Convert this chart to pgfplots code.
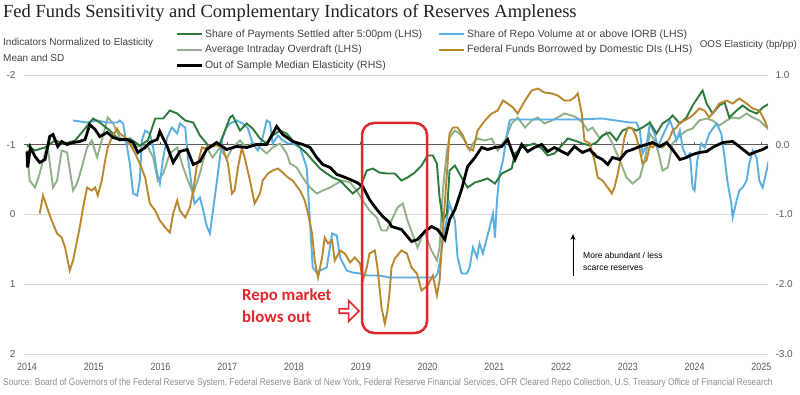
\documentclass[border=0pt]{standalone}
\usepackage{fontspec}
\setmainfont{Liberation Sans}
\newfontfamily\titlefont{Liberation Serif}
\newfontfamily\narrowfont[FakeStretch=0.85]{Liberation Sans}
\newfontfamily\calib{Carlito}
\usepackage{pgfplots}
\pgfplotsset{compat=1.18}
\usetikzlibrary{shapes.arrows,arrows.meta}
\definecolor{dgreen}{HTML}{2E7A3C}
\definecolor{lgreen}{HTML}{90B08A}
\definecolor{lblue}{HTML}{5BAEE2}
\definecolor{fbrown}{HTML}{B8872E}
\definecolor{txtgray}{HTML}{404040}
\definecolor{tickgray}{HTML}{595959}
\definecolor{gridgray}{HTML}{D9D9D9}
\definecolor{srcgray}{HTML}{8C8C8C}
\definecolor{annred}{HTML}{E3262B}
\begin{document}
\begin{tikzpicture}[x=1pt,y=1pt]
\path (0,0) rectangle (800,394);
\begin{axis}[
  at={(24pt,40pt)}, anchor=south west,
  width=744pt, height=279pt, scale only axis,
  xmin=2013.955, xmax=2025.1, ymin=-2, ymax=2, y dir=reverse,
  axis line style={draw=none}, major tick length=0pt,
  xtick={2014,2015,...,2025}, ytick={-2,-1,0,1,2},
  ymajorgrids, major grid style={gridgray, line width=0.8pt},
  /pgf/number format/assume math mode=true,
  /pgf/number format/1000 sep={},
  xticklabel style={font=\narrowfont\fontsize{10.5}{12}\selectfont, text=tickgray, yshift=-6pt},
  yticklabel style={font=\fontsize{10}{12}\selectfont, text=tickgray, xshift=-5pt},
]
\draw[tickgray, line width=0.9pt] (axis cs:2013.955,-1) -- (axis cs:2025.1,-1);
\pgfplotsinvokeforeach{2015,2016,...,2025}{\draw[tickgray, line width=0.8pt] (axis cs:#1,-1) -- ++(0pt,2.5pt);}
% Average Intraday Overdraft
\addplot[lgreen, line width=1.9pt] table {
2014.00 -0.918
2014.04 -0.487
2014.12 -0.387
2014.19 -0.588
2014.27 -0.889
2014.31 -0.961
2014.39 -0.387
2014.45 -0.487
2014.52 -0.918
2014.60 -0.889
2014.69 -0.344
2014.75 -0.444
2014.82 -0.674
2014.90 -0.961
2014.97 -1.061
2015.05 -0.817
2015.12 -1.061
2015.21 -1.391
2015.29 -1.305
2015.39 -1.104
2015.50 -1.032
2015.59 -0.961
2015.69 -0.989
2015.80 -0.989
2015.89 -0.817
2015.96 -0.487
2016.04 -0.588
2016.14 -0.875
2016.25 -0.961
2016.34 -0.674
2016.41 -0.487
2016.49 -0.301
2016.59 -0.588
2016.69 -0.961
2016.78 -0.817
2016.89 -0.961
2016.99 -0.803
2017.08 -0.961
2017.19 -1.061
2017.29 -0.961
2017.38 -1.032
2017.49 -0.961
2017.59 -0.875
2017.68 -0.961
2017.79 -1.018
2017.89 -0.875
2017.94 -0.731
2018.04 -0.674
2018.13 -0.530
2018.24 -0.387
2018.34 -0.301
2018.43 -0.344
2018.54 -0.387
2018.64 -0.444
2018.73 -0.487
2018.84 -0.459
2018.94 -0.344
2019.03 -0.201
2019.13 -0.057
2019.24 0.043
2019.31 0.229
2019.39 0.229
2019.46 0.086
2019.55 -0.100
2019.63 -0.158
2019.70 0.086
2019.81 0.373
2019.85 0.473
2019.91 0.330
2019.96 0.229
2020.00 0.373
2020.06 0.516
2020.14 0.659
2020.18 0.473
2020.23 -0.344
2020.29 -0.918
2020.33 -1.104
2020.41 -1.204
2020.48 -1.161
2020.56 -1.061
2020.63 -0.918
2020.68 -1.018
2020.75 -1.090
2020.86 -1.061
2020.96 -1.090
2021.05 -0.918
2021.16 -1.061
2021.26 -1.305
2021.35 -1.391
2021.46 -1.247
2021.56 -1.348
2021.65 -1.391
2021.75 -1.305
2021.86 -1.348
2021.95 -1.391
2022.05 -1.448
2022.16 -1.419
2022.23 -1.391
2022.32 -1.319
2022.40 -1.204
2022.47 -1.247
2022.58 -1.090
2022.68 -1.176
2022.77 -1.018
2022.88 -0.774
2022.98 -0.530
2023.07 -0.444
2023.18 -0.530
2023.25 -0.774
2023.33 -1.161
2023.40 -1.061
2023.45 -0.918
2023.52 -0.631
2023.60 -0.674
2023.67 -1.018
2023.78 -1.133
2023.88 -1.204
2023.97 -1.233
2024.07 -1.348
2024.18 -1.376
2024.27 -1.348
2024.37 -1.276
2024.48 -1.348
2024.57 -1.391
2024.67 -1.376
2024.78 -1.448
2024.87 -1.391
2024.97 -1.348
2025.08 -1.247
2025.12 -1.204
};
% Share of Repo Volume at or above IORB
\addplot[lblue, line width=1.9pt] table {
2014.69 -1.348
2014.90 -1.319
2015.05 -1.348
2015.20 -1.319
2015.35 -1.319
2015.39 -1.348
2015.44 -1.305
2015.50 -0.961
2015.54 -0.731
2015.59 -0.301
2015.65 -0.272
2015.69 -0.487
2015.72 -1.061
2015.77 -1.204
2015.84 -1.161
2015.89 -0.961
2015.95 -0.588
2015.99 -0.444
2016.04 -0.817
2016.10 -1.104
2016.17 -1.247
2016.25 -1.161
2016.29 -1.305
2016.37 -1.247
2016.41 -0.817
2016.47 -0.387
2016.51 -0.158
2016.59 -0.244
2016.63 -0.100
2016.69 0.158
2016.74 0.272
2016.78 -0.014
2016.84 -0.444
2016.89 -0.817
2016.93 -1.104
2016.99 -1.247
2017.04 -1.305
2017.14 -1.348
2017.23 -1.305
2017.31 -1.233
2017.38 -1.018
2017.46 -0.918
2017.53 -1.104
2017.59 -1.348
2017.64 -1.319
2017.68 -1.018
2017.76 -1.133
2017.83 -1.061
2017.91 -1.018
2017.98 -1.018
2018.09 -0.961
2018.19 -0.674
2018.24 0.129
2018.28 0.760
2018.34 0.832
2018.39 0.803
2018.49 0.760
2018.57 0.272
2018.64 0.301
2018.69 0.616
2018.79 0.803
2018.88 0.832
2018.99 0.846
2019.09 0.875
2019.28 0.875
2019.43 0.903
2019.58 0.903
2020.11 0.903
2020.15 0.846
2020.18 0.703
2020.23 0.373
2020.33 -0.158
2020.41 0.086
2020.45 0.616
2020.51 0.846
2020.59 0.846
2020.63 0.760
2020.68 0.473
2020.74 0.616
2020.78 0.416
2020.83 0.559
2020.89 0.330
2020.93 0.186
2020.98 -0.014
2021.01 0.330
2021.04 -0.201
2021.08 -0.588
2021.13 -0.774
2021.19 -1.161
2021.23 -1.348
2021.26 -1.362
2022.20 -1.362
2022.62 -1.376
2023.03 -1.319
2023.13 -1.319
2023.18 -1.204
2023.22 -0.875
2023.28 -0.989
2023.33 -1.305
2023.40 -1.161
2023.45 -0.961
2023.51 -1.104
2023.58 -1.247
2023.63 -1.348
2023.67 -1.247
2023.73 -1.061
2023.78 -1.204
2023.82 -0.961
2023.88 -0.817
2023.93 -0.875
2023.97 -0.387
2024.00 -0.344
2024.04 -0.774
2024.10 -1.018
2024.15 -0.961
2024.22 -1.161
2024.33 -1.305
2024.40 -1.161
2024.45 -0.817
2024.49 -0.487
2024.55 -0.158
2024.57 0.043
2024.63 -0.201
2024.67 -0.344
2024.72 -0.387
2024.78 -0.487
2024.82 -0.731
2024.87 -0.918
2024.93 -0.817
2024.97 -0.487
2025.02 -0.387
2025.08 -0.631
2025.12 -0.817
};
% Share of Payments Settled after 5:00pm
\addplot[dgreen, line width=1.9pt] table {
2014.00 -0.989
2014.12 -0.918
2014.27 -0.961
2014.42 -1.061
2014.57 -1.018
2014.72 -1.061
2014.87 -1.233
2014.99 -1.376
2015.09 -1.319
2015.24 -1.204
2015.39 -1.061
2015.54 -1.090
2015.69 -0.989
2015.81 -1.061
2015.92 -1.376
2016.04 -1.376
2016.14 -1.491
2016.25 -1.448
2016.37 -1.348
2016.49 -1.319
2016.59 -1.133
2016.74 -0.961
2016.89 -1.018
2017.04 -1.391
2017.08 -1.419
2017.19 -1.204
2017.29 -1.305
2017.38 -1.233
2017.49 -1.090
2017.59 -1.018
2017.68 -1.133
2017.79 -1.204
2017.89 -1.161
2017.98 -1.061
2018.09 -0.961
2018.19 -0.875
2018.28 -0.774
2018.39 -0.659
2018.49 -0.588
2018.58 -0.530
2018.69 -0.487
2018.79 -0.387
2018.88 -0.301
2018.99 -0.387
2019.09 -0.631
2019.18 -0.659
2019.28 -0.602
2019.39 -0.588
2019.51 -0.588
2019.61 -0.487
2019.70 -0.530
2019.81 -0.602
2019.91 -0.702
2020.00 -0.846
2020.08 -0.846
2020.14 -0.731
2020.18 -0.244
2020.23 0.086
2020.29 -0.014
2020.33 -0.631
2020.41 -0.702
2020.51 -0.530
2020.60 -0.387
2020.71 -0.459
2020.81 -0.487
2020.90 -0.516
2021.01 -0.444
2021.11 -0.588
2021.20 -0.631
2021.26 -0.659
2021.31 -0.875
2021.41 -0.961
2021.50 -0.989
2021.60 -1.018
2021.71 -0.946
2021.80 -0.846
2021.90 -0.875
2022.01 -0.989
2022.10 -1.090
2022.20 -1.061
2022.32 -1.018
2022.43 -0.989
2022.53 -1.032
2022.62 -1.133
2022.73 -1.176
2022.83 -1.061
2022.92 -1.204
2023.03 -1.247
2023.13 -1.204
2023.22 -1.247
2023.33 -1.319
2023.43 -1.161
2023.52 -1.305
2023.63 -1.376
2023.67 -1.419
2023.78 -1.305
2023.88 -1.391
2023.97 -1.563
2024.07 -1.706
2024.12 -1.778
2024.18 -1.591
2024.27 -1.448
2024.37 -1.563
2024.45 -1.606
2024.52 -1.391
2024.63 -1.491
2024.72 -1.563
2024.82 -1.491
2024.93 -1.448
2025.02 -1.534
2025.12 -1.591
};
% Federal Funds Borrowed by Domestic DIs
\addplot[fbrown, line width=1.9pt] table {
2014.19 -0.014
2014.24 -0.272
2014.30 -0.100
2014.37 0.086
2014.45 0.272
2014.52 0.330
2014.57 0.473
2014.61 0.659
2014.64 0.803
2014.69 0.659
2014.75 0.373
2014.79 0.186
2014.84 -0.100
2014.90 -0.387
2014.97 -0.344
2015.02 -0.387
2015.06 -0.272
2015.12 -0.487
2015.17 -0.774
2015.21 -0.961
2015.27 -1.104
2015.35 -1.233
2015.39 -1.161
2015.47 -1.104
2015.54 -1.018
2015.62 -0.875
2015.69 -0.731
2015.77 -0.530
2015.84 -0.158
2015.92 -0.057
2015.99 0.086
2016.07 0.186
2016.14 0.258
2016.19 -0.014
2016.25 -0.201
2016.29 -0.057
2016.37 0.043
2016.44 -0.100
2016.49 -0.344
2016.54 -0.674
2016.62 -0.961
2016.66 -0.946
2016.74 -0.989
2016.84 -0.989
2016.93 -0.961
2017.01 -0.731
2017.07 -0.301
2017.11 -0.344
2017.16 -0.674
2017.22 -0.961
2017.26 -0.817
2017.34 -0.487
2017.41 -0.158
2017.49 -0.301
2017.53 -0.487
2017.61 -0.588
2017.68 -0.631
2017.76 -0.659
2017.83 -0.602
2017.91 -0.530
2017.98 -0.487
2018.09 -0.344
2018.16 -0.201
2018.21 -0.014
2018.27 0.272
2018.31 0.659
2018.36 0.903
2018.42 0.616
2018.46 0.330
2018.51 0.416
2018.57 0.373
2018.61 0.659
2018.69 0.516
2018.76 0.559
2018.84 0.688
2018.91 0.616
2018.99 0.703
2019.03 0.946
2019.09 0.760
2019.13 0.559
2019.21 0.516
2019.25 0.760
2019.31 1.333
2019.36 1.563
2019.40 1.376
2019.43 1.133
2019.46 0.760
2019.51 0.631
2019.61 0.516
2019.69 0.559
2019.76 0.760
2019.84 0.846
2019.91 1.090
2020.00 1.018
2020.08 0.875
2020.14 1.161
2020.18 0.946
2020.23 0.229
2020.29 -0.588
2020.33 -1.161
2020.38 -1.247
2020.45 -1.247
2020.53 -1.133
2020.60 -0.961
2020.68 -0.918
2020.75 -1.204
2020.86 -1.348
2020.96 -1.448
2021.05 -1.491
2021.13 -1.634
2021.20 -1.591
2021.28 -1.534
2021.35 -1.448
2021.46 -1.634
2021.56 -1.778
2021.65 -1.806
2021.75 -1.749
2021.86 -1.735
2021.95 -1.706
2022.05 -1.634
2022.13 -1.634
2022.20 -1.677
2022.25 -1.735
2022.31 -1.448
2022.35 -1.061
2022.43 -1.018
2022.50 -0.774
2022.55 -0.530
2022.62 -0.487
2022.70 -0.387
2022.76 -0.301
2022.80 -0.387
2022.85 -0.588
2022.91 -0.875
2022.95 -1.104
2023.00 -1.247
2023.07 -1.233
2023.13 -1.104
2023.18 -0.918
2023.22 -0.731
2023.28 -0.774
2023.33 -0.989
2023.37 -0.961
2023.43 -1.018
2023.48 -0.989
2023.52 -0.961
2023.58 -1.018
2023.63 -1.104
2023.67 -1.204
2023.73 -1.247
2023.78 -1.319
2023.85 -1.348
2023.93 -1.391
2024.00 -1.448
2024.07 -1.520
2024.15 -1.491
2024.22 -1.391
2024.30 -1.491
2024.37 -1.591
2024.48 -1.634
2024.57 -1.591
2024.67 -1.663
2024.78 -1.591
2024.87 -1.520
2024.97 -1.491
2025.05 -1.348
2025.09 -1.247
};
\end{axis}
\begin{axis}[
  at={(24pt,40pt)}, anchor=south west,
  width=744pt, height=279pt, scale only axis,
  xmin=2013.955, xmax=2025.1, ymin=-3, ymax=1,
  axis line style={draw=none}, major tick length=0pt,
  hide x axis, axis y line*=right,
  ytick={-3,-2,-1,0,1},
  /pgf/number format/assume math mode=true,
  /pgf/number format/.cd, fixed, fixed zerofill, precision=1, /pgfplots/.cd,
  yticklabel style={font=\fontsize{10}{12}\selectfont, text=tickgray, xshift=4pt},
  legend style={at={(axis description cs:0.203,1.171)}, anchor=north west,
    draw=none, fill=none, inner sep=0pt, row sep=2.6pt,
    font=\fontsize{10.5}{12}\selectfont, text=txtgray,
    /tikz/every even column/.append style={column sep=14pt}},
  legend columns=2, legend cell align=left,
  legend image code/.code={\draw[#1] (0pt,0pt) -- (25pt,0pt);},
]
\addlegendimage{dgreen, line width=2pt}
\addlegendentry{Share of Payments Settled after 5:00pm (LHS)}
\addlegendimage{lblue, line width=2pt}
\addlegendentry{Share of Repo Volume at or above IORB (LHS)}
\addlegendimage{lgreen, line width=2pt}
\addlegendentry{Average Intraday Overdraft (LHS)}
\addlegendimage{fbrown, line width=2pt}
\addlegendentry{Federal Funds Borrowed by Domestic DIs (LHS)}
\addplot[black, line width=2.8pt] table {
2014.00 -0.097
2014.01 -0.326
2014.05 -0.039
2014.12 -0.168
2014.19 -0.254
2014.27 -0.212
2014.34 0.118
2014.39 0.147
2014.46 -0.025
2014.52 0.047
2014.60 0.004
2014.69 0.032
2014.79 0.047
2014.87 0.075
2014.94 0.290
2015.02 0.219
2015.09 0.118
2015.20 0.176
2015.29 0.104
2015.39 0.075
2015.50 0.075
2015.59 0.032
2015.66 -0.111
2015.77 -0.039
2015.84 0.032
2015.95 0.075
2015.99 0.190
2016.10 -0.025
2016.19 -0.254
2016.29 -0.097
2016.40 -0.068
2016.49 -0.283
2016.59 -0.240
2016.69 -0.068
2016.84 0.032
2016.99 -0.068
2017.14 -0.025
2017.29 -0.039
2017.44 0.004
2017.59 0.004
2017.74 0.262
2017.83 0.147
2017.98 0.047
2018.13 0.004
2018.24 -0.039
2018.34 -0.183
2018.43 -0.283
2018.54 -0.326
2018.64 -0.426
2018.73 -0.455
2018.84 -0.498
2018.94 -0.541
2019.03 -0.599
2019.13 -0.785
2019.24 -0.928
2019.33 -1.029
2019.43 -1.115
2019.46 -1.172
2019.61 -1.215
2019.76 -1.387
2019.85 -1.358
2019.96 -1.244
2020.06 -1.172
2020.15 -1.215
2020.26 -1.358
2020.33 -1.072
2020.41 -0.928
2020.51 -0.642
2020.60 -0.312
2020.71 -0.183
2020.81 -0.039
2020.90 -0.068
2021.01 -0.039
2021.11 -0.025
2021.20 0.075
2021.31 -0.212
2021.41 0.004
2021.50 -0.097
2021.60 -0.039
2021.71 0.004
2021.80 -0.097
2021.90 -0.039
2022.01 -0.097
2022.10 -0.140
2022.20 -0.025
2022.32 -0.111
2022.43 -0.068
2022.53 -0.168
2022.62 -0.212
2022.70 -0.283
2022.77 -0.183
2022.88 -0.212
2022.98 -0.097
2023.07 -0.068
2023.18 -0.025
2023.28 0.004
2023.37 0.032
2023.48 -0.025
2023.58 0.032
2023.67 -0.068
2023.78 -0.212
2023.88 -0.183
2023.97 -0.140
2024.07 -0.111
2024.18 -0.097
2024.27 -0.039
2024.42 0.032
2024.57 0.047
2024.67 -0.025
2024.82 -0.140
2024.93 -0.097
2025.02 -0.068
2025.10 -0.025
};
\addlegendentry{Out of Sample Median Elasticity (RHS)}
\end{axis}
% titles and labels
\node[anchor=west, inner sep=0pt, font=\titlefont\fontsize{18.5}{21}\selectfont, text=black!88] at (3,381) {Fed Funds Sensitivity and Complementary Indicators of Reserves Ampleness};
\node[anchor=north west, inner sep=0pt, align=left, font=\fontsize{10}{16}\selectfont, text=txtgray] at (3,356) {Indicators Normalized to Elasticity\\Mean and SD};
\node[anchor=east, inner sep=0pt, font=\fontsize{9.8}{11}\selectfont, text=txtgray] at (797,349) {OOS Elasticity (bp/pp)};
\node[anchor=west, inner sep=0pt, font=\narrowfont\fontsize{9.8}{11}\selectfont, text=srcgray] at (3,11) {Source: Board of Governors of the Federal Reserve System, Federal Reserve Bank of New York, Federal Reserve Financial Services, OFR Cleared Repo Collection, U.S. Treasury Office of Financial Research};
% annotations
\draw[annred, line width=2.5pt, rounded corners=12pt] (362,271) rectangle (427,61);
\node[anchor=north west, inner sep=0pt, align=left, font=\calib\bfseries\fontsize{16.8}{22}\selectfont, text=annred] at (242,105) {Repo market\\blows out};
\node[single arrow, draw=annred, fill=white, line width=1.6pt, minimum height=20pt, minimum width=21pt, single arrow head extend=3pt, inner sep=0pt] at (348,83) {};
\draw[black, line width=0.8pt, -{Stealth[length=6pt,width=5pt]}] (573,118) -- (573,160);
\node[anchor=west, inner sep=0pt, align=left, font=\fontsize{8.5}{12}\selectfont] at (583,133) {More abundant / less\\scarce reserves};
\end{tikzpicture}
\end{document}
